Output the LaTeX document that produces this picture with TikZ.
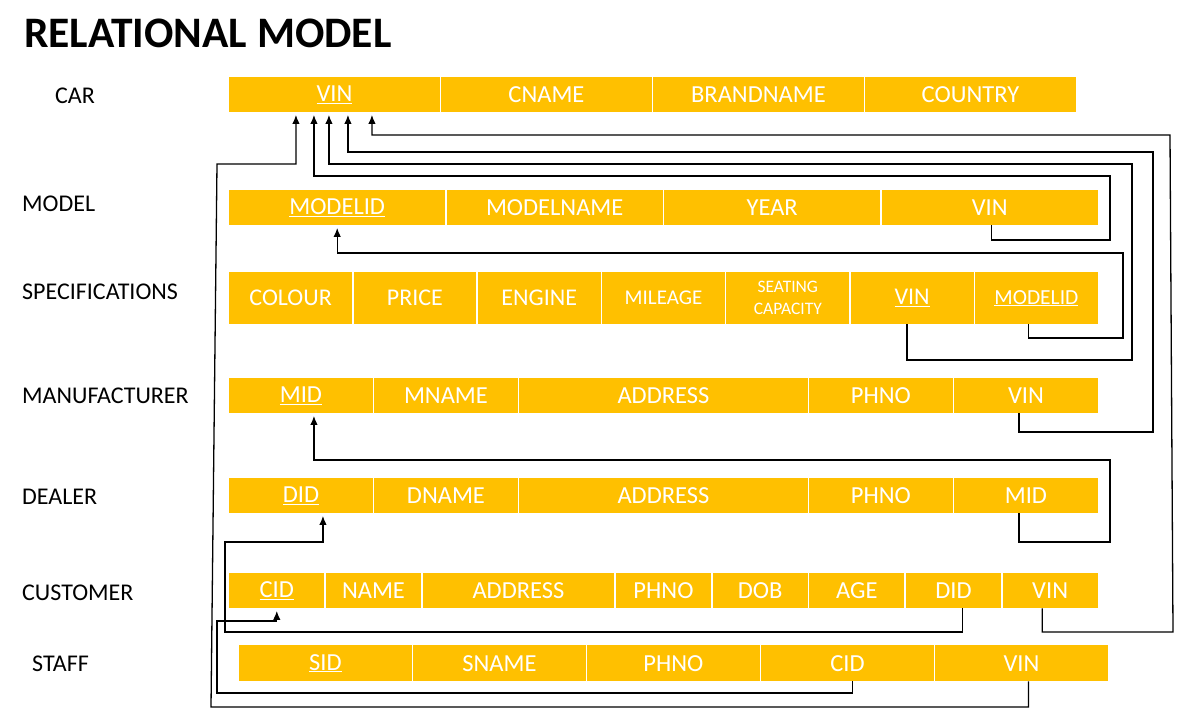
\documentclass[tikz,border=0pt]{standalone}
\usepackage{fontspec}
\setmainfont{Carlito}
\usepackage{tikz}
\usetikzlibrary{arrows.meta}
\definecolor{keygold}{HTML}{FFC000}

\begin{document}
\begin{tikzpicture}[x=1pt,y=-1pt,
  cell/.style={fill=keygold,text=white,anchor=north west,inner sep=0pt,minimum height=35,font=\fontsize{24.5}{28}\selectfont},
  tname/.style={anchor=west,inner sep=0pt,font=\fontsize{24}{28}\selectfont},
  fk/.style={line width=1.3pt,shorten >=2.5pt,-{Latex[length=9pt,width=7.5pt]}}]
\useasboundingbox (0,0) rectangle (1194,718);

\node[anchor=west,inner sep=0pt,font=\bfseries\fontsize{43.5}{50}\selectfont] (title) at (24,33) {RELATIONAL MODEL};

% Car
\node[tname] (car) at (55,96) {CAR};
\foreach \n/\t [count=\i from 0] in {vin/\underline{VIN},cname/CNAME,brand/BRANDNAME,country/COUNTRY} {
    \node[cell,minimum width=210.5] (car-\n) at (229+212*\i,77) {\t};
}

% Model
\node[tname] (model) at (22,204) {MODEL};
\foreach \n/\t [count=\i from 0] in {id/\underline{MODELID},name/MODELNAME,year/YEAR,vin/VIN} {
    \node[cell,minimum width=216] (model-\n) at (229+217.5*\i,190) {\t};
}

% Specifications
\node[tname] (spec) at (22,292) {SPECIFICATIONS};
\foreach \n/\f/\t [count=\i from 0] in {colour/24/COLOUR,price/24/PRICE,engine/24/ENGINE,mileage/21/MILEAGE,seat/17.5/SEATING\\CAPACITY,vin/24/\underline{VIN},mid/21.5/\underline{MODELID}} {
    \node[cell,minimum width=122.8,minimum height=52,align=center,font=\fontsize{\f}{22}\selectfont] (spec-\n) at (229+124.3*\i,272) {\t};
}

% Manufacturer
\node[tname] (man) at (22,396) {MANUFACTURER};
\foreach \n/\s/\w/\t in {id/0/1/\underline{MID},name/1/1/MNAME,addr/2/2/ADDRESS,ph/4/1/PHNO,vin/5/1/VIN} {
    \node[cell,minimum width=145*\w-1.5] (man-\n) at (229+145*\s,378) {\t};
}

% Dealer
\node[tname] (dealer) at (22,497) {DEALER};
\foreach \n/\s/\w/\t in {id/0/1/\underline{DID},name/1/1/DNAME,addr/2/2/ADDRESS,ph/4/1/PHNO,mid/5/1/MID} {
    \node[cell,minimum width=145*\w-1.5] (dealer-\n) at (229+145*\s,478) {\t};
}

% Customer
\node[tname] (cust) at (22,593) {CUSTOMER};
\foreach \n/\s/\w/\t in {id/0/1/\underline{CID},name/1/1/NAME,addr/2/2/ADDRESS,ph/4/1/PHNO,dob/5/1/DOB,age/6/1/AGE,did/7/1/DID,vin/8/1/VIN} {
    \node[cell,minimum width=96.67*\w-1.5] (cust-\n) at (229+96.67*\s,573) {\t};
}

% Staff
\node[tname] (staff) at (32,664) {STAFF};
\foreach \n/\t [count=\i from 0] in {id/\underline{SID},name/SNAME,ph/PHNO,cid/CID,vin/VIN} {
    \node[cell,minimum width=172.5,minimum height=36] (staff-\n) at (239+174*\i,645) {\t};
}

% Keys into CAR.VIN
\draw[fk] ([xshift=7]staff-vin.south) |- (211,707) -- (217,164) -| ([xshift=-38.5]car-vin.south);
\draw[fk] ([xshift=2]model-vin.south) |- (1110,240) -- (1110,176) -| ([xshift=-20.5]car-vin.south);
\draw[fk] ([xshift=-5]spec-vin.south) |- (1132,360) -- (1132,164) -| ([xshift=-5.5]car-vin.south);
\draw[fk] ([xshift=-7]man-vin.south) |- (1153,432) -- (1153,152) -| ([xshift=13.5]car-vin.south);
\draw[fk] ([xshift=-8]cust-vin.south) |- (1173,632) -- (1170,135) -| ([xshift=37.5]car-vin.south);

% Other keys
\draw[fk] ([xshift=-8]spec-mid.south) |- (1123,338) -- (1123,253) -| (model-id.south);
\draw[fk] ([xshift=-7]dealer-mid.south) |- (1110,542) -- (1110,460) -| ([xshift=13]man-id.south);
\draw[fk] ([xshift=9]cust-did.south) |- (225,632) -- (225,542) -| ([xshift=22]dealer-id.south);
\draw[fk] ([xshift=5]staff-cid.south) |- (217,693) -- (217,621) -| (cust-id.south);
\end{tikzpicture}
\end{document}
